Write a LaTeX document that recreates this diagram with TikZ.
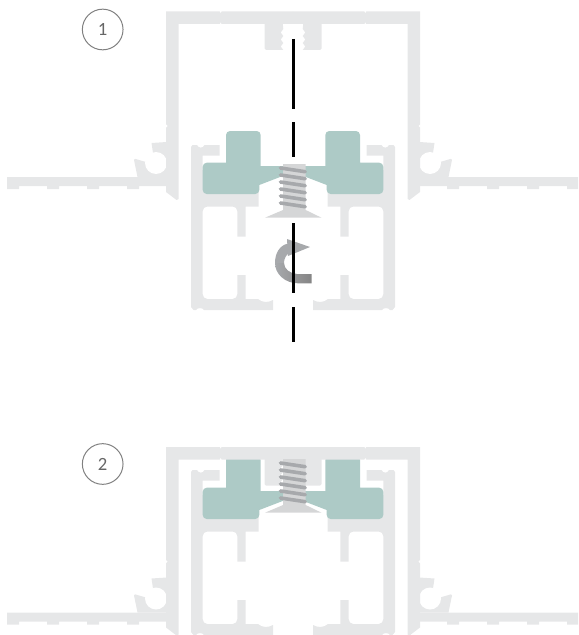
\documentclass[tikz,border=0pt]{standalone}
\usepackage{fontspec}
\setmainfont{Carlito}
\usepackage{tikz}
\usetikzlibrary{positioning}
\definecolor{profilegray}{HTML}{E6E7E8}
\definecolor{clipteal}{HTML}{ADCAC6}
\definecolor{screwgray}{HTML}{D5D6D7}
\definecolor{threadgray}{HTML}{A7A9AC}

\begin{document}
\begin{tikzpicture}[x=0.75pt,y=-0.75pt]
	\tikzset{
		profile/.style={fill=profilegray},
		clip block/.style={fill=clipteal},
		screw/.style={fill=screwgray},
		thread/.style={draw=threadgray,line width=2.7pt,line cap=round},
		axisline/.style={draw=black,line width=2.6pt},
		notch/.style={fill=white},
		stepmark/.style={draw=black!50,line width=0.75pt,circle,minimum size=30.5pt,inner sep=0,text=black!60,font=\fontsize{14}{16}\selectfont},
	}
	
	\useasboundingbox (0,0) rectangle (578,635);
	\clip (0,0) rectangle (578,635);
	
	\node[stepmark] (mark1) at (102.7,29.5) {1};
	\node[stepmark] (mark2) at (102.7,464) {2};
	
	\foreach \profshift/\frameshift/\screwshift in {0/0/0, 325/435.5/295}{
		\foreach \mirrorx/\sgn in {0/1, 586/-1}{
			% inner profile and teal block
			\begin{scope}[shift={(\mirrorx,\profshift)},xscale=\sgn]
			\fill[profile] (191,147) -- (192.5,145) -- (197,145) .. controls (198.5,148.5) and (203,148.5) .. (204.5,145)
				-- (219.5,145) -- (219.5,155.7) -- (202.7,155.7) -- (202.7,170) -- (258.5,170) -- (258.5,206.5)
				-- (245.7,206.5) -- (245.7,236.5) -- (237.3,236.5)
				[rounded corners=3.5pt] -- (237.3,206.5) -- (202.7,206.5) -- (202.7,299) -- (237.3,299) [sharp corners]
				-- (237.3,275) -- (245.7,275) -- (245.7,299) -- (258,299) .. controls (262,302.5) and (268,303) .. (273,300)
				-- (273,310) -- (204,310) .. controls (203,307.5) and (197,307.5) .. (196,310) -- (193.5,310) -- (191,307) -- cycle;
			\fill[clip block] (226,162.7) [rounded corners=3pt] -- (226,131) -- (260.7,131) [sharp corners] -- (260.7,166)
				-- (284,166) -- (284,175.5) -- (259.3,185) [rounded corners=3pt] -- (259.3,194) -- (202.7,194) -- (202.7,162.7) [sharp corners] -- cycle;
			\end{scope}
			% outer frame with wing and hook
			\begin{scope}[shift={(\mirrorx,\frameshift)},xscale=\sgn]
			\fill[profile] (7,177) -- (166.5,177) -- (166.5,186) -- (139,186) -- (139,189) -- (127,189) -- (127,186) -- (99,186) -- (99,189)
				-- (87,189) -- (87,186) -- (59,186) -- (59,189) -- (47,189) -- (47,186) -- (19,186) -- (19,189) -- (7,189) -- cycle;
			\fill[profile] (137.5,177) -- (134,160) -- (135,158.8) -- (146,162) -- (153,153) -- (151.5,143) -- (166.5,142) -- (166.5,177) -- cycle;
			\fill[white] (156,163) circle (11);
			\fill[profile] (293.2,11.5) -- (166,11.5) -- (166,192) -- (176.5,200) -- (178.5,199) -- (178.5,24) -- (293.2,24) -- cycle;
			\fill[profile] (264.5,23.5) -- (264.5,48.5) -- (266,50) -- (283.3,50) -- (280.7,46.5) -- (283.3,43) -- (280.7,39.5) -- (283.3,36) -- (280.7,32.5) -- (283.3,29) -- (282.7,23.5) -- cycle;
			\fill[notch] (219.7,11) -- (221.7,11) -- (220.7,13) -- cycle;
			\fill[notch] (219.7,24.5) -- (221.7,24.5) -- (220.7,22.5) -- cycle;
			\fill[notch] (165.5,124) -- (167.5,126) -- (165.5,128) -- cycle;
			\end{scope}
		}
		% screw
		\begin{scope}[shift={(0,\screwshift)}]
		\fill[screw] (283,164) -- (305.7,164) -- (305.7,210) -- (321.5,217.7) -- (265,217.7) -- (283,210) -- cycle;
		\foreach \n in {0,...,5}
		\draw[thread] (280.5,168+7*\n) -- (305.2,171.7+7*\n);
		\end{scope}
	}
	
	% turning arrow
	\fill[threadgray] (310,247) -- (287,239) -- (288,256) -- cycle;
	\fill[threadgray] (288,243.5) .. controls (279,245.5) and (275,254) .. (275,263) -- (284,263) .. controls (284,259) and (286,255) .. (289,253) -- cycle;
	\shade[left color=threadgray,right color=black!48] (275,263) .. controls (275,274) and (285,283.3) .. (298,283.3) -- (311.7,283.3) -- (311.7,274)
		-- (297,274) .. controls (290,273.5) and (284,269) .. (284,263) -- cycle;
	
	\foreach \ya/\yb in {39/108.5, 122/156.7, 223/292.7, 307/341.7}
	\draw[axisline] (293.3,\ya) -- (293.3,\yb);
\end{tikzpicture}
\end{document}
